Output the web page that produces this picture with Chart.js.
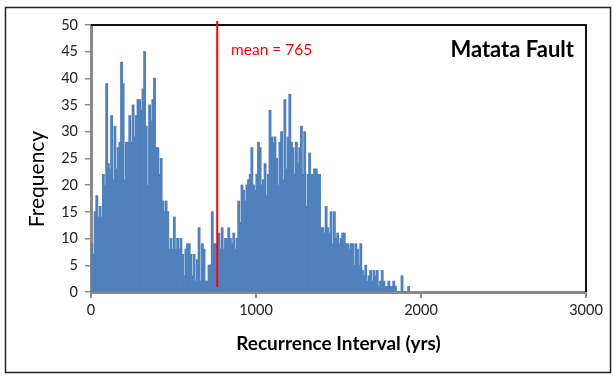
<!DOCTYPE html>
<html lang="en">
<head>
  <meta charset="UTF-8">
  <title>Matata Fault recurrence intervals</title>
  <script src="https://cdn.jsdelivr.net/npm/chart.js"></script>
  <style>
    body { margin: 0; background: #fff; }
    canvas { display: block; }
  </style>
</head>
<body>
  <canvas id="histChart" width="614" height="377"></canvas>

  <script>
    // Histogram of simulated recurrence intervals, 10-year bins starting at 0
    const binWidth = 10;
    const counts = [
      9, 7, 15, 18, 14, 16, 14, 22, 20, 39,
      24, 23, 33, 21, 31, 23, 27, 28, 43, 39,
      21, 28, 28, 33, 28, 35, 29, 33, 36, 36,
      34, 38, 45, 31, 20, 35, 32, 36, 40, 27,
      27, 22, 25, 17, 15, 17, 15, 8, 10, 8,
      14, 8, 10, 8, 10, 7, 3, 8, 9, 9,
      7, 3, 7, 2, 6, 12, 2, 9, 8, 2,
      2, 5, 5, 15, 9, 9, 8, 11, 8, 12,
      8, 10, 10, 12, 10, 9, 11, 8, 10, 17,
      13, 20, 19, 17, 20, 21, 22, 27, 20, 19,
      22, 28, 27, 20, 21, 24, 18, 22, 34, 29,
      28, 29, 25, 20, 28, 30, 21, 36, 23, 29,
      37, 28, 27, 22, 28, 24, 27, 31, 22, 30,
      16, 22, 26, 22, 22, 23, 23, 22, 22, 12,
      12, 11, 16, 12, 11, 15, 9, 15, 10, 11,
      9, 10, 11, 11, 9, 9, 8, 9, 9, 5,
      9, 8, 5, 9, 4, 3, 5, 2, 3, 4,
      2, 4, 3, 4, 1, 2, 4, 2, 1, 1,
      2, 1, 1, 2, 1, 0, 0, 0, 3, 0,
      0, 0, 1
    ];
    const meanInterval = 765;
    const xTicks = [0, 1000, 2000, 3000];
    const yTicks = [0, 5, 10, 15, 20, 25, 30, 35, 40, 45, 50];

    const FONT = 'Lato, "Open Sans", sans-serif';
    const AXIS_GREY = '#8a8a8a';

    const bars = counts.map((c, i) => ({ x: i * binWidth + binWidth / 2, y: c }));

    // white page, outer frame, plot frame and the free text labels
    const decorations = {
      id: 'decorations',
      beforeDraw(chart) {
        const ctx = chart.ctx;
        ctx.save();
        ctx.fillStyle = '#fff';
        ctx.fillRect(0, 0, chart.width, chart.height);
        ctx.strokeStyle = '#222';
        ctx.lineWidth = 1.5;
        ctx.strokeRect(5.5, 7.5, 605, 365);
        ctx.restore();
      },
      beforeDatasetsDraw(chart) {
        const { ctx, chartArea: a } = chart;
        ctx.save();
        ctx.strokeStyle = '#111';
        ctx.lineWidth = 2;
        ctx.beginPath();
        ctx.moveTo(a.left, a.top);
        ctx.lineTo(a.right, a.top);
        ctx.lineTo(a.right, a.bottom);
        ctx.stroke();
        ctx.restore();
      },
      afterDraw(chart) {
        const { ctx, chartArea: a } = chart;
        ctx.save();
        ctx.textBaseline = 'middle';

        ctx.fillStyle = '#ff0000';
        ctx.font = '15.5px ' + FONT;
        ctx.textAlign = 'left';
        ctx.fillText('mean = ' + meanInterval, a.left + 140, 50);

        ctx.fillStyle = '#000';
        ctx.font = 'bold 22px ' + FONT;
        ctx.textAlign = 'right';
        ctx.fillText('Matata Fault', a.right - 12, 50);

        ctx.translate(37, 179);
        ctx.rotate(-Math.PI / 2);
        ctx.font = '21px ' + FONT;
        ctx.textAlign = 'center';
        ctx.fillText('Frequency', 0, 0);
        ctx.restore();
      }
    };

    const ctx = document.getElementById('histChart').getContext('2d');
    const histChart = new Chart(ctx, {
      type: 'bar',
      data: {
        datasets: [{
          label: 'Frequency',
          data: bars,
          backgroundColor: '#4f81bd',
          borderWidth: 0,
          inflateAmount: 0.6,
          barPercentage: 1,
          categoryPercentage: 1,
          order: 2
        }, {
          type: 'line',
          label: 'mean',
          data: [{ x: meanInterval, y: 0.9 }, { x: meanInterval, y: 50.75 }],
          borderColor: '#ff0000',
          borderWidth: 2,
          pointRadius: 0,
          clip: false,
          order: 1
        }]
      },
      options: {
        responsive: false,
        animation: false,
        layout: { padding: { left: 0, top: 25, right: 28, bottom: 15 } },
        plugins: {
          legend: { display: false },
          tooltip: { enabled: false }
        },
        scales: {
          x: {
            type: 'linear',
            min: 0,
            max: 3000,
            offset: false,
            z: 1,
            afterBuildTicks(scale) { scale.ticks = xTicks.map(v => ({ value: v })); },
            afterFit(scale) { scale.height = 70; },
            ticks: {
              padding: 4,
              color: '#222',
              font: { family: FONT, size: 14.5 },
              callback: v => String(v)
            },
            grid: { offset: false, drawOnChartArea: false, tickLength: 6, color: AXIS_GREY, lineWidth: 2 },
            border: { color: AXIS_GREY, width: 3 },
            title: {
              display: true,
              text: 'Recurrence Interval (yrs)',
              color: '#000',
              font: { family: FONT, size: 19, weight: 'bold' },
              padding: { top: 0, bottom: 7 }
            }
          },
          y: {
            min: 0,
            max: 50,
            z: 1,
            afterBuildTicks(scale) { scale.ticks = yTicks.map(v => ({ value: v })); },
            afterFit(scale) { scale.width = 91; },
            ticks: { padding: 7, color: '#222', font: { family: FONT, size: 14.5 } },
            grid: { drawOnChartArea: false, tickLength: 6, color: AXIS_GREY, lineWidth: 1.5 },
            border: { color: AXIS_GREY, width: 3 }
          }
        }
      },
      plugins: [decorations]
    });
  </script>
</body>
</html>
